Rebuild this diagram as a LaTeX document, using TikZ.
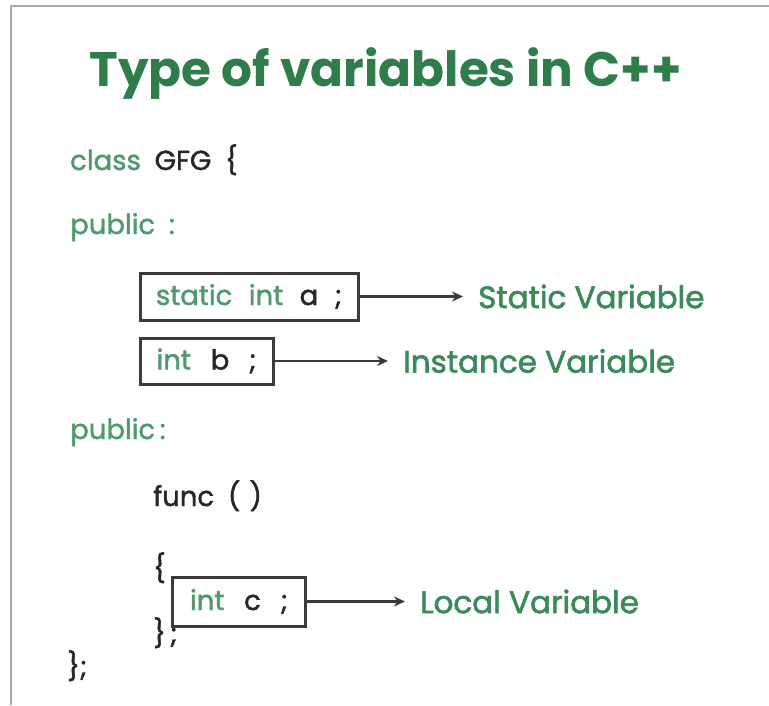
\documentclass[tikz,border=0pt]{standalone}
\usepackage{fontspec}
\setmainfont{Poppins}
\newfontfamily\codefont{Poppins}[FakeBold=1.5]
\newfontfamily\labelfont{Poppins}[FakeBold=2.0]
\usetikzlibrary{arrows.meta}
\definecolor{titlegreen}{HTML}{2E7D4A}
\definecolor{labelgreen}{HTML}{3B8A5A}
\definecolor{kwgreen}{HTML}{4E9A6C}
\definecolor{codeblack}{HTML}{262626}
\definecolor{framegray}{HTML}{A8A8A8}
\definecolor{boxgray}{HTML}{3A3A3A}
\newcommand{\gap}{\hspace{0.5em}}
\newcommand{\bgap}{\hspace{0.72em}}
\begin{document}
\begin{tikzpicture}[x=1pt,y=-1pt,
  code/.style={anchor=base west, inner sep=0pt, text=codeblack, font=\codefont\fontsize{27.5}{32}\selectfont},
  codebox/.style={draw=boxgray, line width=3pt, fill=white, inner sep=0pt, text=codeblack, font=\codefont\fontsize{27.5}{32}\selectfont},
  varlabel/.style={anchor=west, inner sep=0pt, text=labelgreen, font=\labelfont\fontsize{31}{36}\selectfont},
  pointer/.style={draw=boxgray, line width=2.4pt, -{Stealth[length=11pt,width=10pt]}, shorten >=15pt}
]
\useasboundingbox (0,0) rectangle (769,705);
\draw[framegray, line width=1.5pt] (11,705) -- (11,6) -- (769,6);

\node[anchor=base, inner sep=0pt, text=titlegreen, font=\fontsize{48.5}{58}\selectfont\bfseries] (title) at (385.5,86) {Type of variables in C++};

\node[code] (cls) at (70,170) {\textcolor{kwgreen}{class}\gap GFG\gap\{};
\node[code, text=kwgreen] (pub1) at (70,234) {public\gap :};

\node[codebox, minimum width=218pt, minimum height=47pt] (boxa) at (249,296.5) {\textcolor{kwgreen}{static\hspace{0.6em}int}\hspace{0.6em}a\hspace{0.6em};};
\node[varlabel] (laba) at (478,296.5) {Static Variable};
\draw[pointer] (boxa.east) -- (laba.west);

\node[codebox, minimum width=133pt, minimum height=46pt] (boxb) at (206.5,361) {\textcolor{kwgreen}{int}\bgap b\bgap ;};
\node[varlabel] (labb) at (403,361) {Instance Variable};
\draw[pointer] (boxb.east) -- (labb.west);

\node[code, text=kwgreen] (pub2) at (70,439) {public\,:};
\node[code] (func) at (153,506) {func\gap (\,\,)};
\node[code] (open) at (153,578) {\{};
\node[code] (close) at (153,643) {\}};
\node[code] (semi) at (170,643) {;};

\node[codebox, minimum width=133pt, minimum height=49pt] (boxc) at (239,601.5) {\textcolor{kwgreen}{int}\bgap c\bgap ;};
\node[varlabel] (labc) at (420,601.5) {Local Variable};
\draw[pointer] (boxc.east) -- (labc.west);

\node[code] (end) at (67,676) {\};};
\end{tikzpicture}
\end{document}
